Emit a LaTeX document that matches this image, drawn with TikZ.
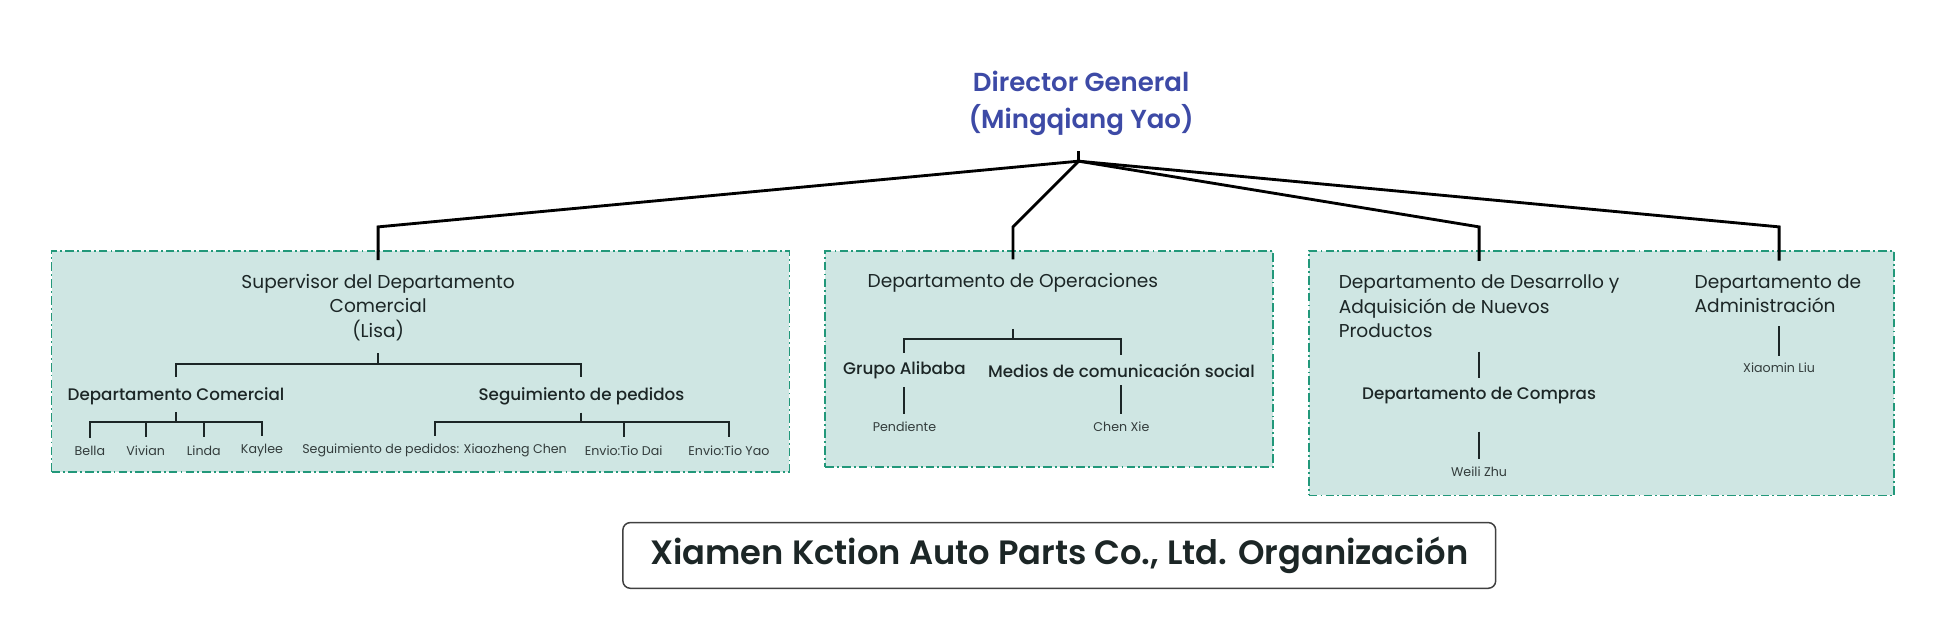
\documentclass[tikz,border=0pt]{standalone}
\usepackage{fontspec}
\setmainfont{Poppins}[BoldFont={* SemiBold}]
\newfontfamily\medfont{Poppins}[UprightFont={* Medium}]
\usetikzlibrary{positioning}

\definecolor{dirblue}{HTML}{3D4AA6}
\definecolor{grpfill}{HTML}{CFE6E3}
\definecolor{grpline}{HTML}{22987A}
\definecolor{inkline}{HTML}{1C2626}

\begin{document}
\begin{tikzpicture}[
  x=1pt, y=-1pt,
  every node/.style={text=inkline, inner sep=0pt},
  grp/.style={
    draw=grpline,
    fill=grpfill,
    line width=1.3pt,
    dash pattern=on 7pt off 2.5pt on 1.5pt off 2.5pt,
    anchor=north west
  },
  head/.style={font=\fontsize{15}{19.8}\selectfont, align=center},
  sub/.style={font=\medfont\fontsize{13.5}{16}\selectfont},
  person/.style={font=\fontsize{10.2}{12}\selectfont, text=inkline!90},
  link/.style={draw=inkline, line width=1.6pt},
  toplink/.style={draw=black, line width=2.3pt}
]
\useasboundingbox (0,0) rectangle (1568,516);

% Group boxes
\node[grp, minimum width=595pt, minimum height=178pt] (g1) at (41,202) {};
\node[grp, minimum width=361pt, minimum height=174pt] (g2) at (665,202) {};
\node[grp, minimum width=472pt, minimum height=197pt] (g3) at (1055,202) {};

% Director
\node[font=\bfseries\fontsize{21}{30}\selectfont, text=dirblue, align=center] (dir) at (872,83.5) {
  Director General\\
  (Mingqiang Yao)
};
\coordinate (dtop) at (870,122);
\coordinate (hub) at (870,130);
\coordinate (k1) at (305,183);
\coordinate (k2) at (817,183);
\coordinate (k3) at (1193,183);
\coordinate (k4) at (1435,183);

% Comercial group
\node[head] (sup) at (305,248) {
  Supervisor del Departamento\\
  Comercial\\
  (Lisa)
};
\node[sub] (dc) at (142,319.5) {Departamento Comercial};
\node[sub] (sp) at (469,319.5) {Seguimiento de pedidos};
\node[person] (bella) at (72.5,363.5) {Bella};
\node[person] (vivian) at (117.5,363.5) {Vivian};
\node[person] (linda) at (164.4,363.5) {Linda};
\node[person] (kaylee) at (211.3,363.5) {Kaylee};
\node[person] (xc) at (350.5,363.5) {Seguimiento de pedidos: Xiaozheng Chen};
\node[person] (td) at (503,363.5) {Envio:Tio Dai};
\node[person] (ty) at (588,363.5) {Envio:Tio Yao};

% Operaciones group
\node[head] (ops) at (817,228) {Departamento de Operaciones};
\node[sub] (ali) at (729.5,299) {Grupo Alibaba};
\node[sub] (med) at (904.5,299) {Medios de comunicación social};
\node[person] (pen) at (729.5,344) {Pendiente};
\node[person] (chx) at (904.5,344) {Chen Xie};

% Desarrollo and Administracion group
\node[head, align=left] (dev) at (1193,247) {
  Departamento de Desarrollo y\\
  Adquisición de Nuevos\\
  Productos
};
\node[sub] (comp) at (1193,318.6) {Departamento de Compras};
\node[person] (wz) at (1193,380.4) {Weili Zhu};
\node[head, align=left] (adm) at (1434,237) {
  Departamento de\\
  Administración
};
\node[person] (xl) at (1435,297) {Xiaomin Liu};

% Director to groups
\draw[toplink] (dtop) -- (hub);
\draw[toplink, shorten >=11pt] (hub) -- (k1) -- (sup.north);
\draw[toplink, shorten >=11pt] (hub) -- (k2) -- (k2 |- ops.north);
\draw[toplink, shorten >=11pt] (hub) -- (k3) -- (dev.north);
\draw[toplink, shorten >=11pt] (hub) -- (k4) -- (k4 |- adm.north);

% Comercial tree
\coordinate (f1) at (305,293.5);
\coordinate (f2) at (142,340.5);
\coordinate (f3) at (469,340.5);
\draw[link, shorten <=10pt] (sup.south) -- (f1);
\draw[link, shorten >=8pt] (f1) -| (dc.north);
\draw[link, shorten >=8pt] (f1) -| (sp.north);
\draw[link, shorten <=6pt] (dc.south) -- (f2);
\draw[link, shorten >=6.5pt] (f2) -| (bella.north);
\draw[link, shorten >=6.5pt] (f2) -| (vivian.north);
\draw[link, shorten >=6.5pt] (f2) -| (linda.north);
\draw[link, shorten >=6.5pt] (f2) -| (kaylee.north);
\draw[link, shorten <=6pt] (sp.south) -- (f3);
\draw[link, shorten >=6.5pt] (f3) -| (xc.north);
\draw[link, shorten >=6.5pt] (f3) -| (td.north);
\draw[link, shorten >=6.5pt] (f3) -| (ty.north);

% Operaciones tree
\coordinate (f4) at (817,273.5);
\draw[link, shorten <=29.5pt] (ops.south) -- (f4);
\draw[link, shorten >=7pt] (f4) -| (ali.north);
\draw[link, shorten >=7pt] (f4) -| (med.north);
\draw[link, shorten <=6pt, shorten >=6pt] (ali.south) -- (pen.north);
\draw[link, shorten <=6pt, shorten >=6pt] (med.south) -- (chx.north);

% Desarrollo and Administracion trees
\draw[link, shorten <=11pt, shorten >=7pt] (dev.south) -- (comp.north);
\draw[link, shorten <=22.6pt, shorten >=6pt] (comp.south) -- (wz.north);
\draw[link, shorten <=10.5pt, shorten >=5.5pt] (adm.south -| xl.north) -- (xl.north);

% Title
\node[draw=black!75, line width=1.2pt, rounded corners=6pt,
  minimum width=704pt, minimum height=53pt,
  font=\bfseries\fontsize{27.2}{30}\selectfont] (ttl) at (854.4,448) {
  Xiamen Kction Auto Parts Co., Ltd. Organización
};

\end{tikzpicture}
\end{document}
